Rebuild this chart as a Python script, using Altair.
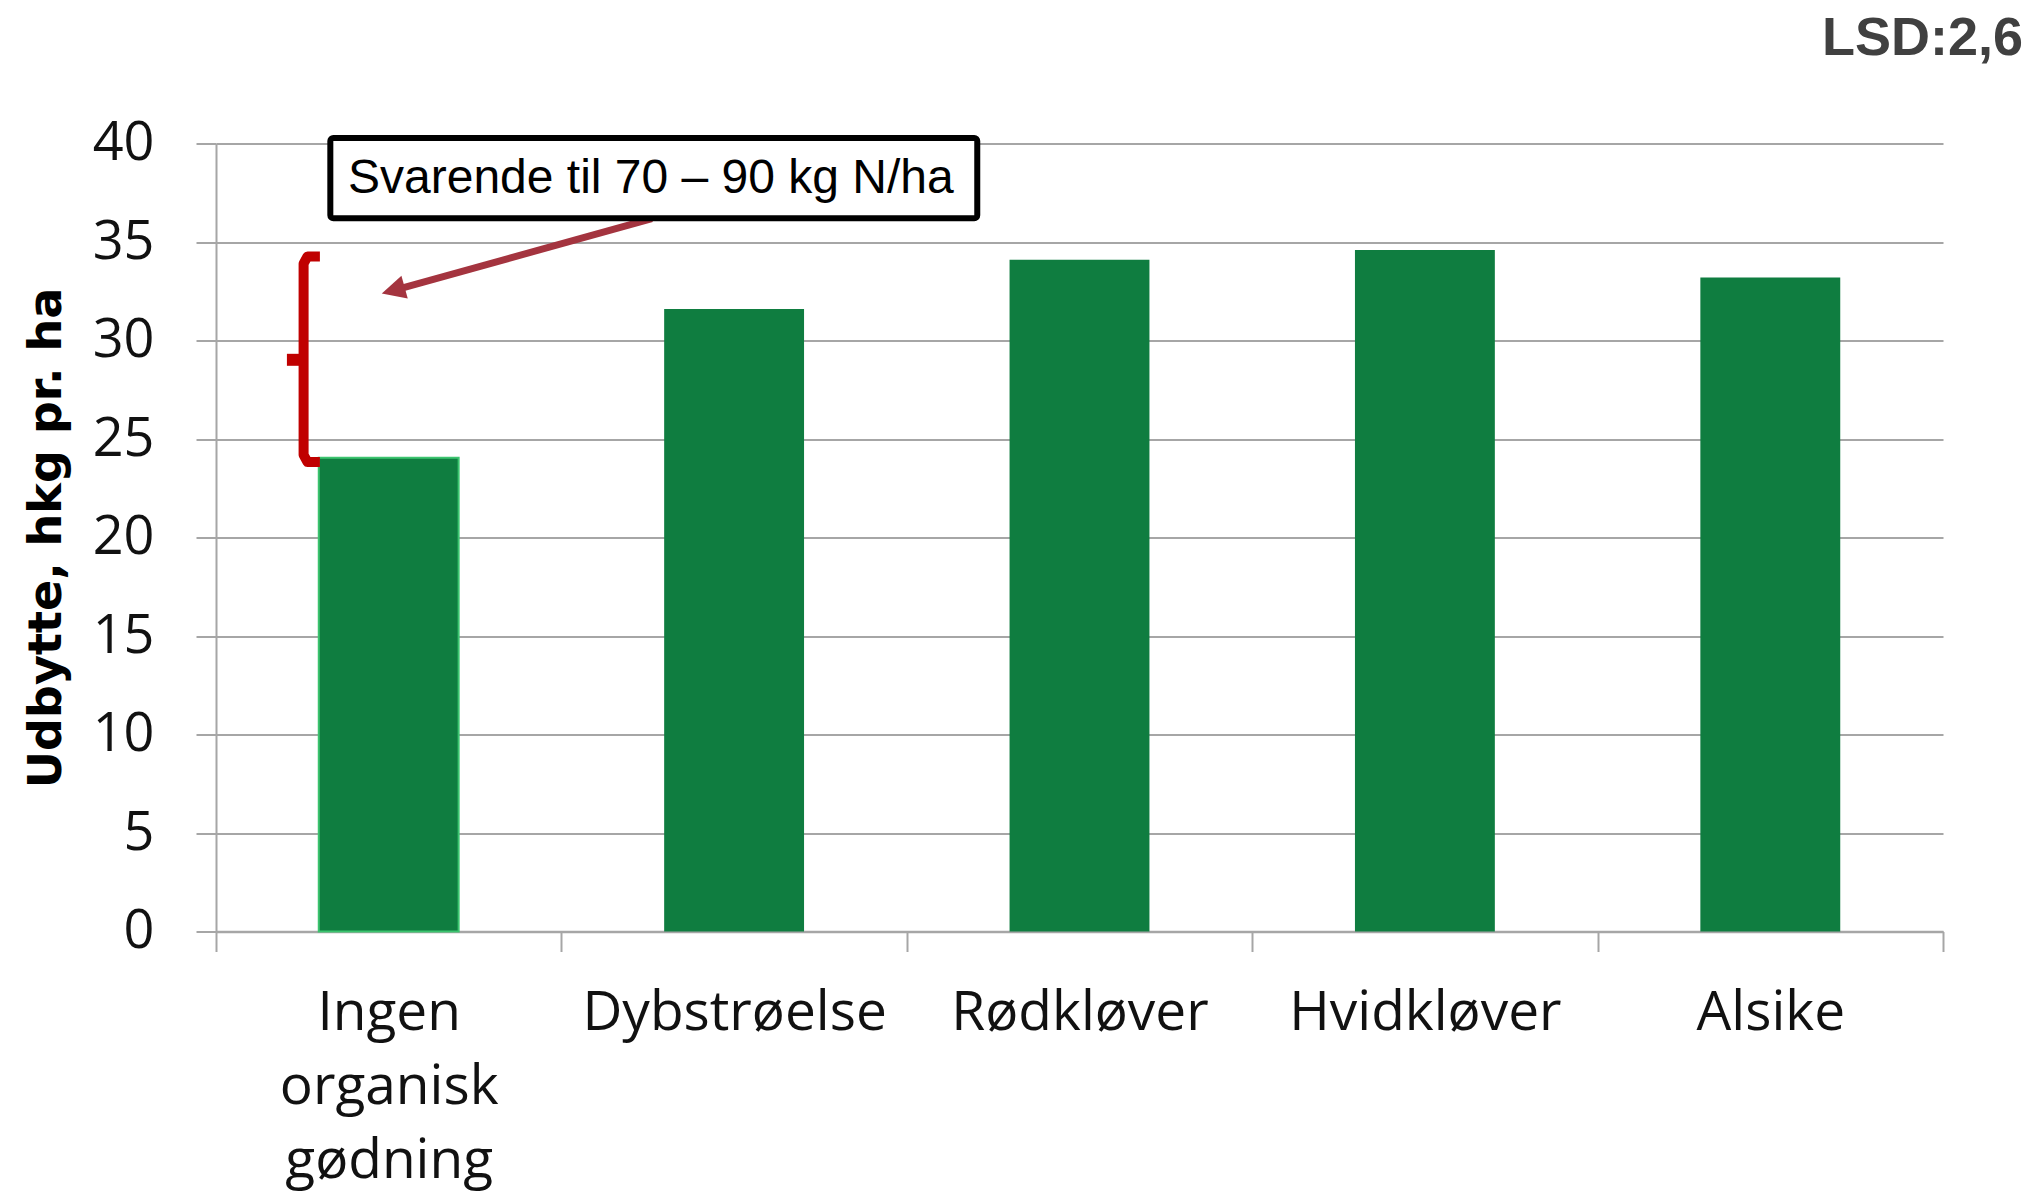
import altair as alt
import pandas as pd

# ---- data ----
categories = ["Ingen\norganisk\ngødning", "Dybstrøelse", "Rødkløver", "Hvidkløver", "Alsike"]
yields = [24.05, 31.6, 34.1, 34.6, 33.2]
y_ticks = [0, 5, 10, 15, 20, 25, 30, 35, 40]
y_title = "Udbytte, hkg pr. ha"

# annotation geometry, in data units (x: category-index units 0..5, y: hkg/ha)
lsd_text = "LSD:2,6"
lsd_xy = [5.232, 44.5]
note_text = "Svarende til 70 – 90 kg N/ha"
note_box_x = [0.331, 2.204]
note_box_y = [40.28, 36.2]
note_text_xy = [1.259, 38.19]
arrow_x = [1.262, 0.53]
arrow_y = [36.19, 32.62]
arrow_head_xy = [0.513, 32.55]
bracket_x = [0.3008, 0.265, 0.2536, 0.2536, 0.265, 0.3008]
bracket_y = [34.27, 34.27, 33.9, 24.2, 23.83, 23.83]
notch_x = [0.2053, 0.2536]
notch_y = [29.02, 29.02]

W, H = 1727, 788
GRAY = "#A6A6A6"
GREEN = "#0F7D40"

bars_df = pd.DataFrame({"cat": categories, "val": yields})

xq = alt.Scale(domain=[0, 5], nice=False, zero=False)
yq = alt.Scale(domain=[0, 40], nice=False, zero=False)

bars = alt.Chart(bars_df).mark_bar(color=GREEN, width={"band": 0.405}).encode(
    x=alt.X("cat:N", sort=categories,
            scale=alt.Scale(paddingInner=0, paddingOuter=0),
            axis=alt.Axis(title=None, labelAngle=0,
                          labelExpr="split(datum.label, '\\n')",
                          labelFont="Open Sans", labelFontSize=55,
                          labelLineHeight=74, labelPadding=35,
                          labelColor="#111111", labelLimit=500,
                          tickSize=20, tickBand="extent", tickColor=GRAY,
                          tickWidth=2, domainColor=GRAY, domainWidth=2.5,
                          grid=False)),
    y=alt.Y("val:Q", scale=yq,
            axis=alt.Axis(values=y_ticks, title=y_title,
                          titleFont="DejaVu Sans", titleFontSize=46,
                          titleFontWeight="bold", titleColor="black",
                          titlePadding=22,
                          labelFont="Open Sans", labelFontSize=54,
                          labelColor="#111111", labelPadding=42,
                          labelFlush=False, labelOverlap=False,
                          tickSize=20, tickColor=GRAY, tickWidth=2,
                          domainColor=GRAY, domainWidth=2,
                          gridColor=GRAY, gridWidth=2)),
    stroke=alt.condition(alt.datum.cat == categories[0],
                         alt.value("#3CC46F"), alt.value(GREEN)),
    strokeWidth=alt.condition(alt.datum.cat == categories[0],
                              alt.value(2), alt.value(0)),
)

bracket_df = pd.DataFrame({"u": bracket_x, "v": bracket_y,
                           "o": list(range(len(bracket_x)))})
bracket = alt.Chart(bracket_df).mark_line(
    color="#C00000", strokeWidth=10, strokeCap="butt", strokeJoin="round"
).encode(
    x=alt.X("u:Q", scale=xq, axis=None),
    y=alt.Y("v:Q", scale=yq, axis=None),
    order="o:Q",
)

notch_df = pd.DataFrame({"u": notch_x, "v": notch_y, "o": [0, 1]})
notch = alt.Chart(notch_df).mark_line(
    color="#C00000", strokeWidth=12, strokeCap="butt"
).encode(
    x=alt.X("u:Q", scale=xq, axis=None),
    y=alt.Y("v:Q", scale=yq, axis=None),
    order="o:Q",
)

arrow_df = pd.DataFrame({"u": arrow_x, "v": arrow_y, "o": [0, 1]})
arrow = alt.Chart(arrow_df).mark_line(
    color="#A4343F", strokeWidth=7, strokeCap="butt"
).encode(
    x=alt.X("u:Q", scale=xq, axis=None),
    y=alt.Y("v:Q", scale=yq, axis=None),
    order="o:Q",
)

head_df = pd.DataFrame({"u": [arrow_head_xy[0]], "v": [arrow_head_xy[1]]})
head = alt.Chart(head_df).mark_point(
    shape="M1,0L-1,-1L-1,1Z", filled=True, color="#A4343F",
    size=560, angle=164.5, opacity=1
).encode(
    x=alt.X("u:Q", scale=xq, axis=None),
    y=alt.Y("v:Q", scale=yq, axis=None),
)

box_df = pd.DataFrame({"u": [note_box_x[0]], "u2": [note_box_x[1]],
                       "v": [note_box_y[0]], "v2": [note_box_y[1]]})
box = alt.Chart(box_df).mark_rect(
    fill="white", stroke="black", strokeWidth=6, cornerRadius=3
).encode(
    x=alt.X("u:Q", scale=xq, axis=None), x2="u2:Q",
    y=alt.Y("v:Q", scale=yq, axis=None), y2="v2:Q",
)

text_df = pd.DataFrame({"u": [note_text_xy[0]], "v": [note_text_xy[1]],
                        "t": [note_text]})
text = alt.Chart(text_df).mark_text(
    font="Liberation Sans", fontSize=48, color="black",
    align="center", baseline="middle"
).encode(
    x=alt.X("u:Q", scale=xq, axis=None),
    y=alt.Y("v:Q", scale=yq, axis=None),
    text="t:N",
)

lsd_df = pd.DataFrame({"u": [lsd_xy[0]], "v": [lsd_xy[1]], "t": [lsd_text]})
lsd = alt.Chart(lsd_df).mark_text(
    font="Liberation Sans", fontSize=54, fontWeight="bold", color="#404040",
    align="right", baseline="alphabetic"
).encode(
    x=alt.X("u:Q", scale=xq, axis=None),
    y=alt.Y("v:Q", scale=yq, axis=None),
    text="t:N",
)

chart = alt.layer(bars, bracket, notch, arrow, head, box, text, lsd).resolve_scale(
    x="independent", y="independent"
).properties(
    width=W, height=H,
    autosize=alt.AutoSizeParams(type="none"),
    padding={"left": 208, "top": 135.5, "right": 86, "bottom": 262.5},
    background="white",
).configure_view(stroke="transparent")

chart.save("out.html", embed_options={"renderer": "svg", "actions": False})
